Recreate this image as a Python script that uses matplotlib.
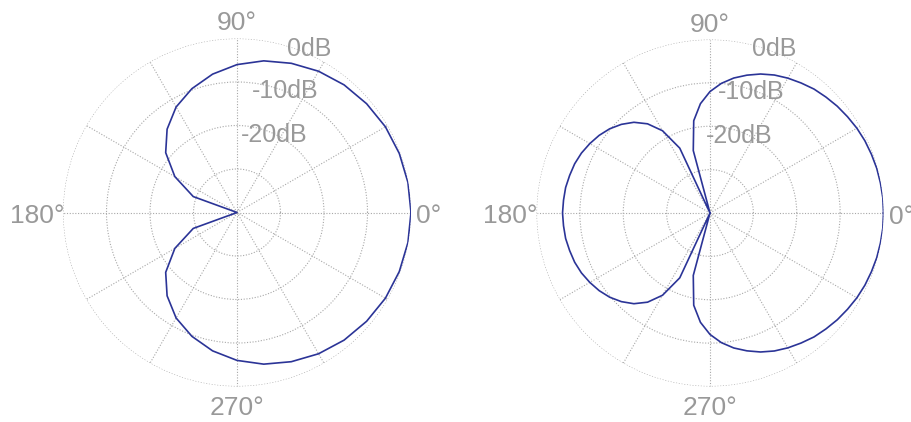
import numpy as np
import matplotlib
matplotlib.use("Agg")
import matplotlib.pyplot as plt

#############################################
# DATOS
#############################################

# Izquierda: patrón cardioide, muestras cada 10°
angles_left = list(range(0, 361, 10))
db_left = [0.0, -0.1, -0.3, -0.6, -1.1, -1.7, -2.5, -3.5, -4.6,
           -6.0, -7.7, -9.7, -12.0, -15.0, -18.6, -23.5, -29.3, -40.0,
           -40.0,
           -40.0, -29.3, -23.5, -18.6, -15.0, -12.0, -9.7, -7.7, -6.0,
           -4.6, -3.5, -2.5, -1.7, -1.1, -0.6, -0.3, -0.1, 0.0]

# Derecha: patrón hipercardioide, muestras cada 5°
angles_right = list(range(0, 361, 5))
db_right = [0.0, 0.0, -0.1, -0.2, -0.4, -0.6, -0.9, -1.3, -1.7, -2.2,
            -2.7, -3.4, -4.1, -4.9, -5.9, -7.1, -8.4, -10.0, -12.0,
            -14.7, -18.4, -25.1, -40.0, -23.5, -18.1, -14.9, -12.7, -11.1,
            -9.8, -8.8, -8.0, -7.3, -6.8, -6.5, -6.2, -6.1,
            -6.0,
            -6.1, -6.2, -6.5, -6.8, -7.3, -8.0, -8.8, -9.8, -11.1,
            -12.7, -14.9, -18.1, -23.5, -40.0, -25.1, -18.4, -14.7, -12.0,
            -10.0, -8.4, -7.1, -5.9, -4.9, -4.1, -3.4, -2.7, -2.2,
            -1.7, -1.3, -0.9, -0.6, -0.4, -0.2, -0.1, 0.0, 0.0]

ring_values = [-30, -20, -10, 0]
ring_labels = ["", "-20dB", "-10dB", "0dB"]
spoke_angles = list(range(0, 360, 30))
angle_label_deg = [0, 90, 180, 270]
angle_label_text = ["0°", "90°", "180°", "270°"]

#############################################
# ESTILO
#############################################

plt.rcParams["font.family"] = ["Liberation Sans", "DejaVu Sans"]
TEXT_GRAY = "#999999"
GRID_GRAY = "#a8a8a8"
LINE_BLUE = "#2b3497"

# desplazamiento (px) de las etiquetas de ángulo respecto al borde
ANGLE_OFFSETS = [(18, -3.5), (0, 15), (-26, -3.5), (0, -21.5)]


def draw_polar(ax, angles, values, label_offsets):
    """Dibuja un diagrama polar en dB."""
    ax.plot(np.deg2rad(angles), values, color=LINE_BLUE, linewidth=1.2)
    ax.set_rlim(-40, 0)
    ax.set_rgrids(ring_values, labels=[""] * len(ring_values))
    ax.set_thetagrids(spoke_angles, labels=[""] * len(spoke_angles))
    ax.grid(True, color=GRID_GRAY, linestyle=(0, (1, 1.5)), linewidth=0.8)
    ax.spines["polar"].set_visible(False)
    ax.set_facecolor("white")

    # etiquetas de ángulo
    for deg, lab, (dx, dy) in zip(angle_label_deg, angle_label_text, ANGLE_OFFSETS):
        ax.annotate(lab, xy=(np.deg2rad(deg), 0), xytext=(dx, dy),
                    textcoords="offset pixels", ha="center", va="center",
                    color=TEXT_GRAY, fontsize=19, annotation_clip=False)

    # etiquetas de los anillos en dB
    for val, lab, (dx, dy) in zip(ring_values, ring_labels, label_offsets):
        if lab:
            ax.annotate(lab, xy=(np.pi / 2, val), xytext=(dx, dy),
                        textcoords="offset pixels", ha="center", va="center",
                        color=TEXT_GRAY, fontsize=18, annotation_clip=False)


fig = plt.figure(figsize=(9.11, 4.22), dpi=100)
ax1 = fig.add_axes([63 / 911, 35.5 / 422, 348 / 911, 348 / 422], projection="polar")
ax2 = fig.add_axes([536.5 / 911, 35.5 / 422, 347 / 911, 347 / 422], projection="polar")

draw_polar(ax1, angles_left, db_left,
           [(0, 0), (37, -10), (48, -9), (72, -10)])
draw_polar(ax2, angles_right, db_right,
           [(0, 0), (29, -10), (41, -9), (64, -10)])

fig.savefig("out.png", dpi=100, facecolor="white")
